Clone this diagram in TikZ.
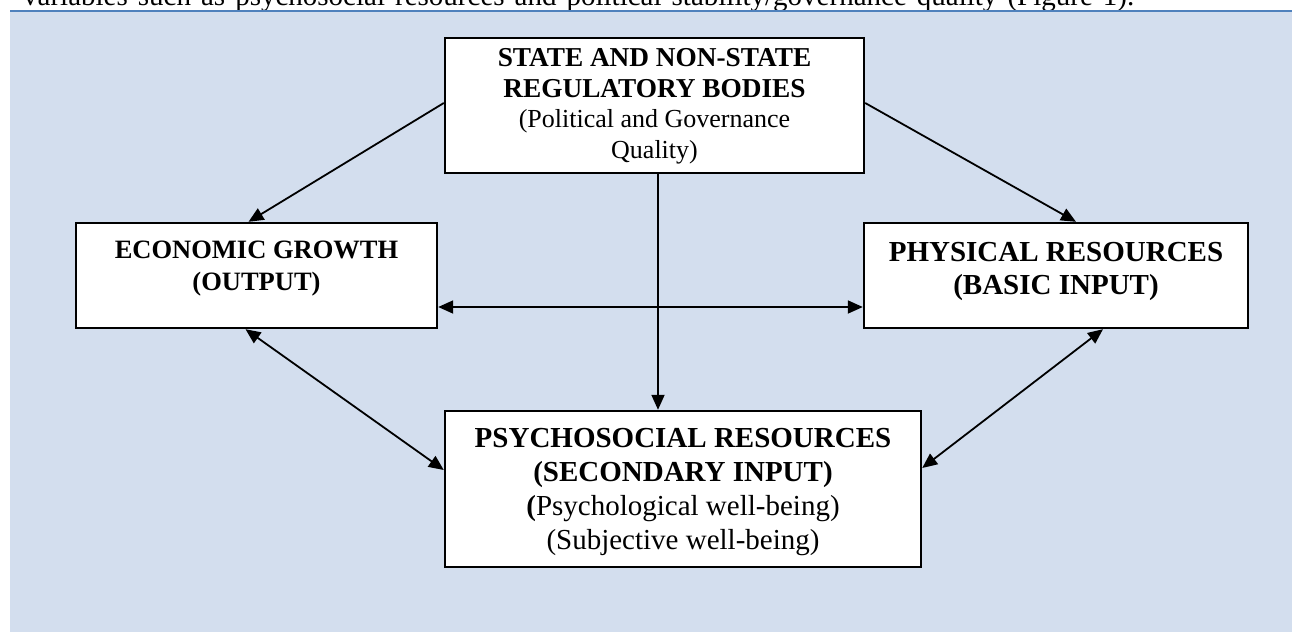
\documentclass[tikz,border=0pt]{standalone}
\usepackage{fontspec}
\setmainfont{Liberation Serif}
\usetikzlibrary{arrows.meta}
\definecolor{panelblue}{HTML}{D3DEEE}
\definecolor{ruleblue}{HTML}{4F81BD}
\begin{document}
\begin{tikzpicture}[x=1pt,y=-1pt,
  box/.style={draw=black, line width=2.4pt, fill=white, inner sep=0pt},
  boxtext/.style={align=center, inner sep=0pt},
  tip/.tip={Triangle[length=15pt,width=13pt]},
  oneway/.style={line width=1.8pt, -tip},
  twoway/.style={line width=1.8pt, tip-tip}]
\useasboundingbox (0,0) rectangle (1292,632);
\begin{scope}
\clip (0,0) rectangle (1292,632);
% running text of the page above the figure frame
\node[anchor=base west, inner sep=0pt, font=\fontsize{29}{34}\selectfont] (intro) at (23,5.5)
  {\makebox[1111pt][s]{variables such as psychosocial resources and political stability/governance quality (Figure 1).}};
% shaded frame with its top rule
\fill[panelblue] (10,12) rectangle (1292,632);
\draw[ruleblue, line width=2.6pt] (10,10.8) -- (1292,10.8);

% boxes
\node[box, minimum width=419pt, minimum height=135pt] (gov) at (654.5,105.5) {};
\node[box, minimum width=361pt, minimum height=105pt] (econ) at (256.5,275.5) {};
\node[box, minimum width=384pt, minimum height=105pt] (phys) at (1056,275.5) {};
\node[box, minimum width=476pt, minimum height=156pt] (psy) at (683,489) {};

% box texts
\node[boxtext, font=\fontsize{26}{30.5}\selectfont] (govtext) at (654.5,106.5)
  {\textbf{\fontsize{27.3}{30.5}\selectfont STATE AND NON-STATE}\\\textbf{\fontsize{27.3}{30.5}\selectfont REGULATORY BODIES}\\(Political and Governance\\Quality)};
\node[boxtext, font=\fontsize{26.5}{32}\selectfont\bfseries] (econtext) at (256.5,269)
  {ECONOMIC GROWTH\\(OUTPUT)};
\node[boxtext, font=\fontsize{29}{33}\selectfont\bfseries] (phystext) at (1056,271)
  {PHYSICAL RESOURCES\\(BASIC INPUT)};
\node[boxtext, font=\fontsize{29}{34}\selectfont] (psytext) at (683,492.5)
  {\textbf{PSYCHOSOCIAL RESOURCES}\\\textbf{(SECONDARY INPUT)}\\\textbf{(}Psychological well-being)\\(Subjective well-being)};

% connectors
\draw[oneway] ([yshift=2.5pt]gov.west) -- ([xshift=-8pt]econ.north);
\draw[oneway] ([yshift=2.5pt]gov.east) -- ([xshift=20pt]phys.north);
\draw[oneway] ([xshift=3.5pt]gov.south) -- ([xshift=3.5pt]gov.south |- psy.north);
\draw[twoway] ([yshift=-31.5pt]econ.east) -- ([yshift=-31.5pt]phys.west);
\draw[twoway] ([xshift=-11pt]econ.south) -- ([yshift=19pt]psy.west);
\draw[twoway] ([xshift=47pt]phys.south) -- ([yshift=21pt]psy.east);
\end{scope}
\end{tikzpicture}
\end{document}
